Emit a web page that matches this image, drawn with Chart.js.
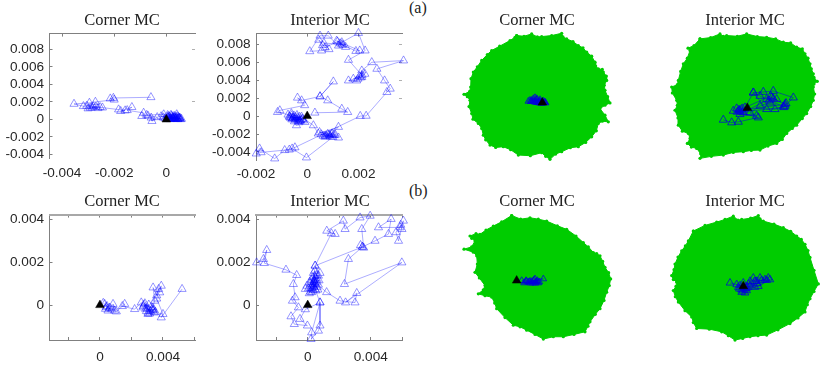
<!DOCTYPE html>
<html>
<head>
<meta charset="utf-8">
<script src="https://cdn.jsdelivr.net/npm/chart.js@4"></script>
<style>
  html, body { margin: 0; padding: 0; background: #fff; }
  body { position: relative; width: 830px; height: 382px; overflow: hidden; }
  canvas { position: absolute; }
  .tag { position: absolute; font: 16px "Liberation Serif", serif; color: #222; }
</style>
</head>
<body>
<div class="tag" style="left:409px;top:-1px">(a)</div>
<div class="tag" style="left:409px;top:182px">(b)</div>
<script>
// ── DATA ─────────────────────────────────────────────────────
const titles = ["Corner MC", "Interior MC"];

// tick values and labelled ticks
const yTicksTop = [-0.004, -0.002, 0, 0.002, 0.004, 0.006, 0.008];
const xTicksTopL = [-0.004, -0.002, 0];
const xTicksTopR = [-0.002, 0, 0.002];
const yTicksBot = [0, 0.002, 0.004];
const xTicksBot = [-0.002, 0, 0.002, 0.004, 0.006];
const xLabelsBot = [0, 0.004];

// (a) Corner MC walk
const cornerAx = [-0.00059,-0.00203,-0.00215,-0.00200,-0.00272,-0.00295,-0.00354,-0.00318,-0.00292,-0.00280,-0.00254,-0.00300,-0.00270,-0.00285,-0.00262,-0.00305,-0.00245,-0.00183,-0.00158,-0.00175,-0.00132,-0.00150,-0.00087,-0.00094,-0.00070,-0.00058,-0.00055,-0.00035,-0.00075,-0.00010,0.00005,-0.00020,0.00020,0.00040,0.00028,0.00052,0.00034,0.00015,0.00005,-0.00012,0.00022,0.00045,0.00012,0.00030,0.00055,0.00038,0.00008,0.00025,0.00042,0.00018,0.00032,0.00048,0.00002,0.00015,0.00036,0.00050,0.00027,0.00010,0.00043,0.00022,0.00058,0.00033,0.00006,0.00046,0.00019,0.00039,0.00012,0.00028,0.00052,-0.00005,0.00035,0.00044,0.00024,0.00016];
const cornerAy = [0.00253,0.00245,0.00238,0.00225,0.00200,0.00189,0.00177,0.00151,0.00132,0.00150,0.00140,0.00125,0.00145,0.00135,0.00128,0.00155,0.00135,0.00113,0.00102,0.00095,0.00140,0.00105,0.00075,0.00038,0.00040,0.00020,-0.00019,0.00025,0.00050,0.00057,0.00030,0.00035,0.00042,0.00058,0.00012,0.00020,0.00005,0.00015,0.00048,0.00022,0.00030,0.00010,0.00008,0.00040,0.00002,0.00025,0.00018,0.00005,0.00035,0.00052,0.00020,0.00012,0.00010,0.00002,0.00008,0.00016,0.00024,0.00038,0.00002,0.00012,0.00006,0.00030,0.00022,0.00026,0.00004,0.00014,0.00028,0.00018,0.00008,0.00012,0.00006,0.00004,0.00016,0.00006];

// (a) Interior MC walk
const interiorAx = [0.00030,0.00158,0.00135,0.00080,0.00050,0.00102,0.00050,-0.00022,-0.00038,-0.00010,-0.00107,-0.00116,-0.00061,-0.00048,-0.00029,-0.00068,-0.00042,-0.00009,-0.00075,-0.00055,-0.00035,-0.00062,-0.00020,-0.00050,-0.00030,-0.00058,-0.00045,-0.00070,-0.00038,-0.00025,-0.00052,-0.00065,-0.00033,-0.00018,-0.00047,-0.00060,-0.00028,-0.00040,-0.00015,-0.00055,-0.00036,-0.00022,0.00024,0.00043,0.00122,0.00089,0.00069,0.00122,0.00055,0.00095,0.00075,0.00105,0.00048,0.00085,0.00098,0.00070,0.00110,0.00090,0.00062,0.00080,0.00100,-0.00003,-0.00059,-0.00088,-0.00127,-0.00186,-0.00199,-0.00180,-0.00070,-0.00048,0.00207,0.00230,0.00311,0.00324,0.00302,0.00272,0.00376,0.00252,0.00213,0.00213,0.00161,0.00193,0.00205,0.00180,0.00225,0.00208,0.00198,0.00214,0.00161,0.00226,0.00200,0.00135,0.00122,0.00082,0.00050,0.00010,0.00056,0.00085,0.00065,0.00135,0.00150,0.00115,0.00205,0.00190,0.00128,0.00140,0.00118,0.00070,0.00045,0.00060];
const interiorAy = [0.00037,0.00044,0.00080,0.00174,0.00219,0.00385,0.00219,0.00174,0.00204,0.00120,0.00063,0.00044,0.00007,-0.00030,-0.00048,-0.00011,-0.00104,-0.00067,0.00015,-0.00020,-0.00055,0.00030,-0.00035,-0.00060,-0.00010,-0.00028,-0.00042,-0.00005,-0.00015,-0.00045,0.00005,-0.00022,-0.00070,-0.00030,-0.00012,-0.00038,-0.00058,0.00010,-0.00050,-0.00018,-0.00032,-0.00008,-0.00104,-0.00196,-0.00122,-0.00215,-0.00233,-0.00241,-0.00205,-0.00200,-0.00225,-0.00205,-0.00180,-0.00212,-0.00195,-0.00218,-0.00210,-0.00228,-0.00222,-0.00200,-0.00235,-0.00463,-0.00363,-0.00381,-0.00474,-0.00363,-0.00419,-0.00405,-0.00375,-0.00350,0,0.00002,0.00267,0.00304,0.00396,0.00526,0.00619,0.00600,0.00507,0.00433,0.00396,0.00396,0.00445,0.00415,0.00470,0.00430,0.00415,0.00455,0.00626,0.00730,0.00926,0.00822,0.00785,0.00896,0.00896,0.00722,0.00730,0.00745,0.00815,0.00800,0.00770,0.00840,0.00730,0.00725,0.00810,0.00790,0.00830,0.00765,0.00850,0.00790];

// (b) Corner MC walk
const cornerBx = [0.00021,0.00030,0.00045,0.00060,0.00040,0.00075,0.00051,0.00035,0.00062,0.00093,0.00083,0.00104,0.00157,0.00142,0.00220,0.00262,0.00273,0.00305,0.00337,0.00290,0.00310,0.00275,0.00345,0.00320,0.00300,0.00285,0.00330,0.00352,0.00315,0.00295,0.00325,0.00340,0.00305,0.00280,0.00335,0.00347,0.00337,0.00360,0.00389,0.00379,0.00372,0.00360,0.00400,0.00389,0.00521];
const cornerBy = [0.00010,0.00005,-0.00005,-0.00015,-0.00010,-0.00020,-0.00026,-0.00018,-0.00012,-0.00026,0.00005,-0.00030,0.00005,-0.00005,-0.00019,0.00012,-0.00011,-0.00042,-0.00026,-0.00018,0.00002,-0.00005,-0.00035,-0.00030,-0.00015,0.00008,-0.00020,-0.00032,-0.00040,-0.00028,-0.00010,-0.00022,-0.00036,0.00002,-0.00012,0.00020,0.00082,0.00045,0.00090,0.00059,0.00075,0.00030,-0.00042,-0.00058,0.00075];

// (b) Interior MC walk
const interiorBx = [-0.00324,-0.00281,-0.00260,-0.00275,-0.00138,-0.00070,-0.00091,-0.00080,-0.00097,-0.00059,-0.00106,-0.00085,-0.00002,-0.00049,-0.00015,0.00078,0.00078,0.00068,0.00021,0.00025,0.00078,0.00047,-0.00005,0.00068,0.00047,0.00078,0.00025,-0.00015,0.00040,0.00015,0.00060,0.00030,0.00010,0.00055,0.00035,0.00045,0.00020,0.00050,0.00068,0.00038,0.00012,0.00058,0.00028,0.00072,0.00042,0.00005,0.00052,0.00024,0.00064,0.00036,0.00048,0.00018,0.00060,0.00032,0.00044,0.00120,0.00205,0.00300,0.00311,0.00240,0.00597,0.00233,0.00258,0.00347,0.00335,0.00355,0.00343,0.00396,0.00332,0.00237,0.00226,0.00121,0.00174,0.00150,0.00047,0.00347,0.00427,0.00512,0.00529,0.00449,0.00586,0.00607,0.00576,0.00560,0.00590,0.00598];
const interiorBy = [0.00199,0.00215,0.00257,0.00196,0.00165,0.00140,0.00098,0.00036,0.00020,-0.00011,-0.00053,-0.00089,-0.00096,-0.00065,-0.00020,0.00012,-0.00096,-0.00120,-0.00159,-0.00128,0.00012,0.00075,0.00090,0.00137,0.00184,0.00150,0.00060,0.00075,0.00115,0.00100,0.00085,0.00130,0.00055,0.00105,0.00070,0.00160,0.00078,0.00125,0.00095,0.00088,0.00108,0.00140,0.00095,0.00115,0.00135,0.00078,0.00068,0.00118,0.00072,0.00150,0.00098,0.00062,0.00118,0.00082,0.00108,0.00060,0.00020,0.00012,0.00056,0.00012,0.00199,0.00098,0.00215,0.00272,0.00280,0.00268,0.00355,0.00417,0.00409,0.00355,0.00394,0.00347,0.00332,0.00335,0.00184,0.00272,0.00300,0.00332,0.00402,0.00363,0.00363,0.00394,0.00300,0.00340,0.00375,0.00355];

const cloudAcx = [-77,-55,-32,-15,-2,28,58,62,73,92,108,122,133,148,158,160,168,180,183,192,193,186,188,196,203,188,173,188,198,180,168,162,148,130,108,84,58,40,23,10,-2,-36,-72,-95,-117,-140,-157,-170,-177,-182,-192,-208,-212,-220,-217,-225,-235,-218,-215,-214,-207,-195,-182,-165,-152,-128,-97,-82];
const cloudAcy = [202,200,207,198,199,202,209,198,192,184,172,165,152,140,122,110,102,100,92,80,67,52,37,18,-1,-8,-18,-38,-58,-56,-63,-85,-103,-120,-133,-136,-148,-155,-171,-162,-151,-160,-158,-142,-133,-135,-128,-112,-98,-78,-63,-50,-33,-12,7,18,25,34,47,72,92,108,127,145,157,170,187,197];
const cloudAix = [-142,-110,-82,-72,-62,-30,-2,30,58,85,108,130,148,165,173,182,188,192,198,200,210,200,198,202,198,190,178,165,148,135,118,105,88,62,38,12,-12,-42,-72,-108,-142,-140,-152,-168,-180,-172,-177,-195,-207,-208,-217,-210,-212,-225,-227,-210,-207,-200,-192,-180,-172,-178,-160];
const cloudAiy = [208,212,223,216,218,216,223,215,213,208,198,196,183,178,163,150,133,118,103,92,80,72,63,42,23,4,-17,-32,-52,-62,-77,-95,-107,-115,-127,-128,-132,-134,-142,-146,-152,-138,-122,-118,-107,-92,-77,-70,-52,-30,-7,8,23,45,63,70,83,110,133,150,173,180,188];
const cloudBcx = [-15,12,40,65,90,122,150,178,200,215,230,240,250,258,265,276,282,278,270,262,250,236,220,214,205,172,140,110,80,55,30,10,-10,-35,-60,-66,-75,-95,-115,-100,-95,-112,-125,-118,-120,-130,-158,-135,-125,-135,-140,-122,-110,-92,-70,-45];
const cloudBcy = [197,186,190,186,180,166,155,135,115,102,85,82,75,58,40,24,5,-15,-35,-60,-85,-102,-125,-138,-155,-163,-170,-170,-177,-163,-150,-140,-135,-112,-85,-68,-50,-46,-40,-28,-15,8,25,50,75,86,95,102,120,128,135,142,140,153,165,178];
const cloudBix = [-150,-115,-80,-55,-30,-16,-5,22,45,50,60,92,120,142,160,174,185,194,200,212,225,212,200,192,185,164,140,104,70,44,20,-2,-25,-45,-65,-102,-140,-150,-155,-175,-195,-204,-210,-202,-200,-210,-215,-208,-205,-196,-185,-174,-165];
const cloudBiy = [167,184,194,202,212,200,202,206,214,204,197,188,177,166,152,142,127,108,87,48,7,-16,-38,-56,-78,-96,-113,-132,-148,-150,-153,-158,-163,-150,-138,-130,-128,-110,-93,-74,-48,-32,-13,0,12,20,32,50,67,88,107,122,137];

// blue walks over the clouds, same units
const overAcx = [-42,-37,-27,-22,-32,-15,-7,0,5,-5,-10,8,3,-3,-20,-12,-25,-30,-17,-35,-8,2,-14,-6,-18,10,6,-2,-22,-10,-4];
const overAcy = [4,7,12,15,7,9,9,0,0,0,2,2,5,3,7,3,5,4,12,3,4,-1,0,-1,1,-1,1,-2,1,-1,0];
const overAix = [-72,-47,-27,33,-42,-22,-7,18,48,78,138,113,83,58,18,38,58,88,68,38,8,28,-22,-12,73,113,-24,-18,-30,-14,70,78,65,108,116,110,-15,-25,-32];
const overAiy = [-36,-44,-42,-29,-9,-9,1,46,48,51,31,6,-4,-4,46,36,26,26,16,6,-14,-24,-19,-14,31,11,-8,-4,-12,-2,36,28,22,4,14,2,-12,-6,-2];
const overBcx = [15,28,40,52,62,55,80,35,22,45,58,65,48,30,38,50,60,42,56,68,26];
const overBcy = [0,0,-2,2,0,5,5,-5,-7,-3,-5,-7,-7,-2,-4,-1,-3,-8,-8,-4,-4];
const overBix = [-40,-10,5,-5,10,20,35,30,50,75,65,40,20,10,-15,0,45,80,5,-20,2,-6,8,-2,-12,12,55,70,34,42,16];
const overBiy = [10,2,-8,-18,-13,2,-3,25,25,25,20,15,15,-5,-3,10,0,20,-20,5,-4,-10,-6,-14,-8,-2,18,18,14,8,6];

// ── PANELS ───────────────────────────────────────────────────
const GREY = "#808080";
const tickFont = { family: "'Liberation Sans', sans-serif", size: 13.6 };
const titleFont = { family: "'Liberation Serif', serif", size: 16.5, weight: "normal" };

function pts(xs, ys) {
  return xs.map((x, i) => ({ x, y: ys[i] }));
}

function blackMarker() {
  return {
    data: [{ x: 0, y: 0 }], order: 1, pointStyle: "triangle", pointRadius: 5,
    pointBackgroundColor: "#000", pointBorderColor: "#000", pointBorderWidth: 0.5, clip: false,
  };
}

function blueWalk(xs, ys, radius) {
  return {
    data: pts(xs, ys), order: 2, showLine: true, borderColor: "rgba(0,0,255,0.55)", borderWidth: 0.6,
    pointStyle: "triangle", pointRadius: radius, pointBackgroundColor: "rgba(0,0,0,0)",
    pointBorderColor: "rgba(0,0,255,0.7)", pointBorderWidth: 0.6, clip: false,
  };
}

function addCanvas(left, top, w, h) {
  const c = document.createElement("canvas");
  c.width = w; c.height = h;
  c.style.left = left + "px"; c.style.top = top + "px";
  c.style.width = w + "px"; c.style.height = h + "px";
  document.body.appendChild(c);
  return c;
}

function fixedTicks(values) {
  return scale => { scale.ticks = values.map(value => ({ value })); };
}

// left hand panels: axes with inward ticks, only some sides drawn
function axesPanel(p) {
  const c = addCanvas(p.left, p.top, p.w, p.h);
  const inward = { drawOnChartArea: false, drawTicks: true, tickLength: -3, color: GREY, lineWidth: 1 };
  new Chart(c, {
    type: "scatter",
    data: { datasets: [blackMarker(), blueWalk(p.xs, p.ys, 4.7)] },
    options: {
      responsive: false, animation: false, devicePixelRatio: 1,
      layout: { autoPadding: false },
      plugins: {
        legend: { display: false }, tooltip: { enabled: false },
        title: {
          display: true, text: p.title, font: titleFont, color: "#222",
          padding: { top: p.titleTop, bottom: p.titleBottom },
        },
      },
      scales: {
        x: {
          type: "linear", min: p.xMin, max: p.xMax, position: "bottom",
          afterBuildTicks: fixedTicks(p.xTicks),
          afterFit: s => { s.height = p.bottomH; },
          grid: Object.assign({}, inward, { display: p.bottomLine }),
          border: { display: p.bottomLine, color: GREY, width: 1 },
          ticks: {
            font: tickFont, color: "#262626", padding: p.xPad, autoSkip: false, maxRotation: 0,
            callback: v => (p.xLabels.includes(v) ? String(v) : ""),
          },
        },
        y: {
          type: "linear", min: p.yMin, max: p.yMax, position: "left",
          afterBuildTicks: fixedTicks(p.yTicks),
          afterFit: s => { s.width = p.leftW; },
          grid: inward, border: { color: GREY, width: 1 },
          ticks: { font: tickFont, color: "#262626", padding: 8.5, autoSkip: false, callback: v => String(v) },
        },
        xTop: {
          type: "linear", min: p.xMin, max: p.xMax, position: "top",
          afterBuildTicks: fixedTicks(p.xTicks),
          afterFit: s => { s.height = 0; },
          grid: inward, border: { color: p.topColor, width: p.topWidth }, ticks: { display: false },
        },
        // right side has no line; its width keeps the title centred over the box
        yRight: {
          type: "linear", min: p.yMin, max: p.yMax, position: "right",
          afterBuildTicks: fixedTicks(p.rightTicks),
          afterFit: s => { s.width = p.rightW; },
          grid: Object.assign({}, inward, { color: "#b0b0b0" }),
          border: { display: false }, ticks: { display: false },
        },
      },
    },
  });
}

// right hand panels: no axes, a filled cloud with the walk on top
function cloudPanel(p) {
  const c = addCanvas(p.left, p.top, p.w, p.h);
  new Chart(c, {
    type: "scatter",
    data: {
      datasets: [
        blackMarker(),
        Object.assign(blueWalk(p.overX, p.overY, p.radius), { borderColor: "rgba(0,0,230,0.85)", pointBorderColor: "rgba(0,0,220,0.95)", pointBorderWidth: 0.8 }),
        {
          data: pts(p.cloudX.concat(p.cloudX[0]), p.cloudY.concat(p.cloudY[0])), order: 3, showLine: true,
          fill: "shape", backgroundColor: "#00cc00", borderColor: "#00cc00", borderWidth: 1,
          pointRadius: 1.6, pointBackgroundColor: "#00cc00", pointBorderWidth: 0, clip: false,
        },
      ],
    },
    options: {
      responsive: false, animation: false, devicePixelRatio: 1,
      layout: { autoPadding: false },
      plugins: {
        legend: { display: false }, tooltip: { enabled: false },
        title: {
          display: true, text: p.title, font: titleFont, color: "#222",
          padding: { top: p.titleTop, bottom: p.titleBottom },
        },
      },
      scales: {
        x: { type: "linear", display: false, min: p.xMin, max: p.xMax },
        y: { type: "linear", display: false, min: p.yMin, max: p.yMax },
      },
    },
  });
}

axesPanel({
  title: titles[0], left: 0, top: 0, w: 244, h: 182, leftW: 49.5, rightW: 49, bottomH: 24, xPad: 10,
  titleTop: 10.4, titleBottom: 3.4, xs: cornerAx, ys: cornerAy, bottomLine: false, topColor: GREY, topWidth: 1,
  xMin: -0.00448, xMax: 0.0011, yMin: -0.0044, yMax: 0.0098,
  xTicks: xTicksTopL, xLabels: xTicksTopL, yTicks: yTicksTop, rightTicks: [0.002, 0.008],
});
axesPanel({
  title: titles[1], left: 205, top: 0, w: 250, h: 182, leftW: 51, rightW: 53, bottomH: 22, xPad: 9,
  titleTop: 10.4, titleBottom: 3.4, xs: interiorAx, ys: interiorAy, bottomLine: false, topColor: GREY, topWidth: 1,
  xMin: -0.002, xMax: 0.0037, yMin: -0.0049, yMax: 0.0092,
  xTicks: xTicksTopR, xLabels: xTicksTopR, yTicks: yTicksTop, rightTicks: [0.002, 0.004, 0.006, 0.008],
});
axesPanel({
  title: titles[0], left: 0, top: 182, w: 244, h: 182, leftW: 49.5, rightW: 49, bottomH: 24, xPad: 12,
  titleTop: 9.4, titleBottom: 3.4, xs: cornerBx, ys: cornerBy, bottomLine: true, topColor: "#a8a8a8", topWidth: 2,
  xMin: -0.0032, xMax: 0.00603, yMin: -0.00163, yMax: 0.00423,
  xTicks: xTicksBot, xLabels: xLabelsBot, yTicks: yTicksBot, rightTicks: [],
});
axesPanel({
  title: titles[1], left: 205, top: 182, w: 250, h: 182, leftW: 51, rightW: 53, bottomH: 24, xPad: 12,
  titleTop: 9.4, titleBottom: 3.4, xs: interiorBx, ys: interiorBy, bottomLine: true, topColor: "#a8a8a8", topWidth: 2,
  xMin: -0.00328, xMax: 0.00598, yMin: -0.00163, yMax: 0.00423,
  xTicks: xTicksBot, xLabels: xLabelsBot, yTicks: yTicksBot, rightTicks: [],
});

cloudPanel({
  title: titles[0], left: 450, top: 0, w: 174, h: 165, titleTop: 10.4, titleBottom: 0.4, radius: 3.8,
  cloudX: cloudAcx, cloudY: cloudAcy, overX: overAcx, overY: overAcy,
  xMin: -277, xMax: 245, yMin: -188, yMax: 217,
});
cloudPanel({
  title: titles[1], left: 660, top: 0, w: 170, h: 165, titleTop: 10.4, titleBottom: 0.4, radius: 4.7,
  cloudX: cloudAix, cloudY: cloudAiy, overX: overAix, overY: overAiy,
  xMin: -262, xMax: 248, yMin: -172, yMax: 233,
});
cloudPanel({
  title: titles[0], left: 450, top: 182, w: 174, h: 163, titleTop: 9.4, titleBottom: 0,
  radius: 3.8, cloudX: cloudBcx, cloudY: cloudBcy, overX: overBcx, overY: overBcy,
  xMin: -200, xMax: 322, yMin: -195, yMax: 210,
});
cloudPanel({
  title: titles[1], left: 660, top: 182, w: 170, h: 163, titleTop: 9.4, titleBottom: 0,
  radius: 4.4, cloudX: cloudBix, cloudY: cloudBiy, overX: overBix, overY: overBiy,
  xMin: -250, xMax: 260, yMin: -178, yMax: 227,
});
</script>
</body>
</html>
